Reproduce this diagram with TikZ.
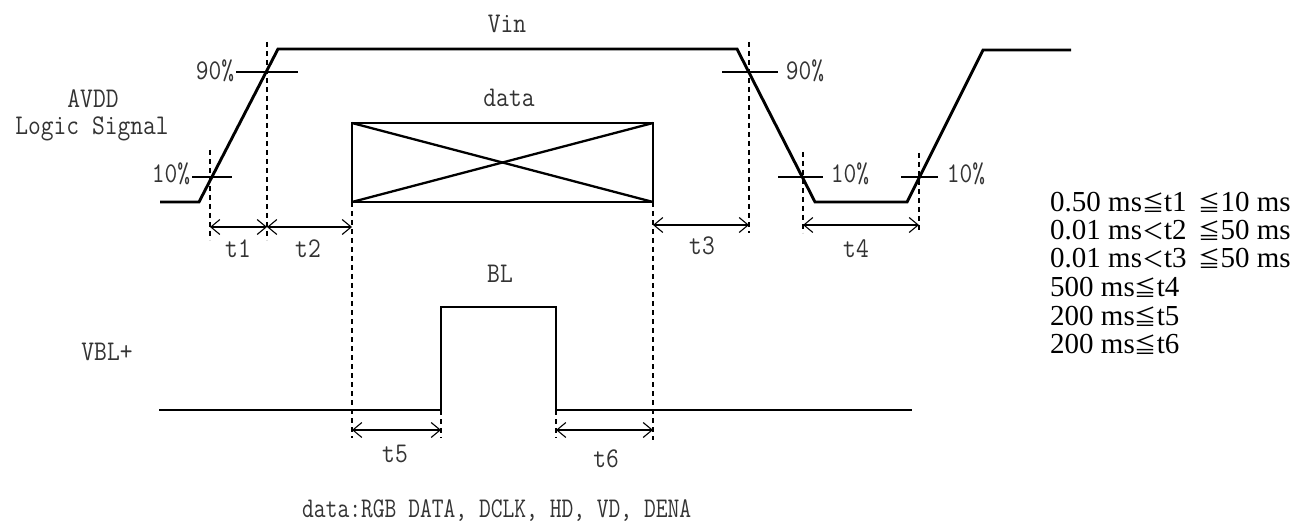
\documentclass[tikz,border=0pt]{standalone}
\usepackage{fontspec}
\usetikzlibrary{arrows.meta}
\newfontfamily\rserif{Liberation Serif}
\newfontfamily\cjkjp{Noto Sans CJK JP}
\newcommand\mlbl[1]{\scalebox{0.87}[1]{#1}}
\newcommand\myleq{{\cjkjp\fontsize{22}{22}\selectfont ≦}}
\newcommand\mylt{{\cjkjp\fontsize{22}{22}\selectfont ＜}}
\begin{document}
\begin{tikzpicture}[x=1pt,y=-1pt,
  sig/.style={line width=2.9pt, line join=miter},
  thinl/.style={line width=1.1pt},
  dsh/.style={line width=1.1pt, dash pattern=on 5pt off 4pt},
  barb/.tip={Straight Barb[length=9pt,width=15pt,line width=1.1pt]},
  dimarrow/.style={line width=1.1pt, barb-barb},
  lbl/.style={inner sep=0pt, anchor=base, text=black!80, font=\ttfamily\fontsize{28.5}{30}\selectfont},
  spec/.style={inner sep=0pt, anchor=base west, font=\rserif\fontsize{29}{30}\selectfont}]
\useasboundingbox (0,0) rectangle (1306,521);

% ---------- top waveform (AVDD / Logic Signal / Vin)
\coordinate (a0) at (160,202);
\coordinate (a1) at (199,202);
\coordinate (a2) at (278,49);
\coordinate (a3) at (737,49);
\coordinate (a4) at (815,202);
\coordinate (a5) at (907,202);
\coordinate (a6) at (983,50);
\coordinate (a7) at (1071,50);
\draw[sig] (a0) -- (a1) -- (a2) -- (a3) -- (a4) -- (a5) -- (a6) -- (a7);

% data box
\coordinate (d1) at (352,202);
\coordinate (d2) at (653,202);
\coordinate (d3) at (653,123);
\coordinate (d4) at (352,123);
\draw[sig] (d1) -- (d4) -- (d3) -- (d2) -- cycle;
\draw[line width=2.3pt] (d1) -- (d3);
\draw[line width=2.3pt] (d4) -- (d2);

% level ticks
\coordinate (p90a) at (267,72);
\coordinate (p10a) at (211,177);
\coordinate (p90b) at (749,72);
\coordinate (p10b) at (803,177);
\coordinate (p10c) at (919,177);
\draw[thinl] (236,72) -- (p90a) -- (298,72);
\draw[thinl] (192,177) -- (p10a) -- (232,177);
\draw[thinl] (722,72) -- (p90b) -- (778,72);
\draw[thinl] (778,177) -- (p10b) -- (823,177);
\draw[thinl] (901,177) -- (p10c) -- (938,177);

% dashed guides
\coordinate (g1t) at (210,150); \coordinate (g1b) at (210,240);
\coordinate (g2t) at (267,42);  \coordinate (g2b) at (267,240);
\coordinate (g3b) at (352,438);
\coordinate (g4b) at (653,440);
\coordinate (g5t) at (749,42);  \coordinate (g5b) at (749,233);
\coordinate (g6t) at (803,152); \coordinate (g6b) at (803,233);
\coordinate (g7t) at (919,153); \coordinate (g7b) at (919,233);
\draw[dsh] (g1t) -- (g1b);
\draw[dsh] (g2t) -- (g2b);
\draw[dsh] (d1) -- (g3b);
\draw[dsh] (d2) -- (g4b);
\draw[dsh] (g5t) -- (g5b);
\draw[dsh] (g6t) -- (g6b);
\draw[dsh] (g7t) -- (g7b);

% dimension arrows (top)
\coordinate (t1a) at (210,227); \coordinate (t1b) at (267,227);
\coordinate (t2b) at (352,227);
\coordinate (t3a) at (653,225); \coordinate (t3b) at (749,225);
\coordinate (t4a) at (803,225); \coordinate (t4b) at (919,225);
\draw[dimarrow] (t1a) -- (t1b);
\draw[dimarrow] (t1b) -- (t2b);
\draw[dimarrow] (t3a) -- (t3b);
\draw[dimarrow] (t4a) -- (t4b);

% ---------- BL waveform
\coordinate (b0) at (159,410);
\coordinate (b1) at (441,410);
\coordinate (b2) at (441,307);
\coordinate (b3) at (556,307);
\coordinate (b4) at (556,410);
\coordinate (b5) at (912,410);
\draw[sig] (b0) -- (b1) -- (b2) -- (b3) -- (b4) -- (b5);
\coordinate (b1d) at (441,438);
\coordinate (b4d) at (556,438);
\draw[dsh] (b1) -- (b1d);
\draw[dsh] (b4) -- (b4d);
\coordinate (t5a) at (352,430); \coordinate (t5b) at (441,430);
\coordinate (t6a) at (556,430); \coordinate (t6b) at (653,430);
\draw[dimarrow] (t5a) -- (t5b);
\draw[dimarrow] (t6a) -- (t6b);

% ---------- labels
\node[lbl] (vin) at (507,33) {\mlbl{Vin}};
\node[lbl] (avdd) at (93,108) {\mlbl{AVDD}};
\node[lbl] (logic) at (92,135) {\mlbl{Logic Signal}};
\node[lbl] (data) at (509,107) {\mlbl{data}};
\node[lbl] (l90a) at (215,80) {\mlbl{90\%}};
\node[lbl] (l10a) at (171,183) {\mlbl{10\%}};
\node[lbl] (l90b) at (805,80) {\mlbl{90\%}};
\node[lbl] (l10b) at (850,183) {\mlbl{10\%}};
\node[lbl] (l10c) at (966,183) {\mlbl{10\%}};
\node[lbl] (lt1) at (238,258) {\mlbl{t1}};
\node[lbl] (lt2) at (308,258) {\mlbl{t2}};
\node[lbl] (lt3) at (702,255) {\mlbl{t3}};
\node[lbl] (lt4) at (856,258) {\mlbl{t4}};
\node[lbl] (bl) at (500,283) {\mlbl{BL}};
\node[lbl] (vbl) at (107,360) {\mlbl{VBL+}};
\node[lbl] (lt5) at (395,462) {\mlbl{t5}};
\node[lbl] (lt6) at (606,467) {\mlbl{t6}};
\node[lbl, anchor=base west] (note) at (302,517) {\resizebox{389pt}{\height}{data:RGB DATA, DCLK, HD, VD, DENA}};

% ---------- specification list
\node[spec] (s1) at (1050,212) {0.50 ms\myleq t1\hspace{12pt}\myleq 10 ms};
\node[spec] (s2) at (1050,240) {0.01 ms\mylt t2\hspace{12pt}\myleq 50 ms};
\node[spec] (s3) at (1050,268) {0.01 ms\mylt t3\hspace{12pt}\myleq 50 ms};
\node[spec] (s4) at (1050,297) {500 ms\myleq t4};
\node[spec] (s5) at (1050,325) {200 ms\myleq t5};
\node[spec] (s6) at (1050,353) {200 ms\myleq t6};
\end{tikzpicture}
\end{document}
